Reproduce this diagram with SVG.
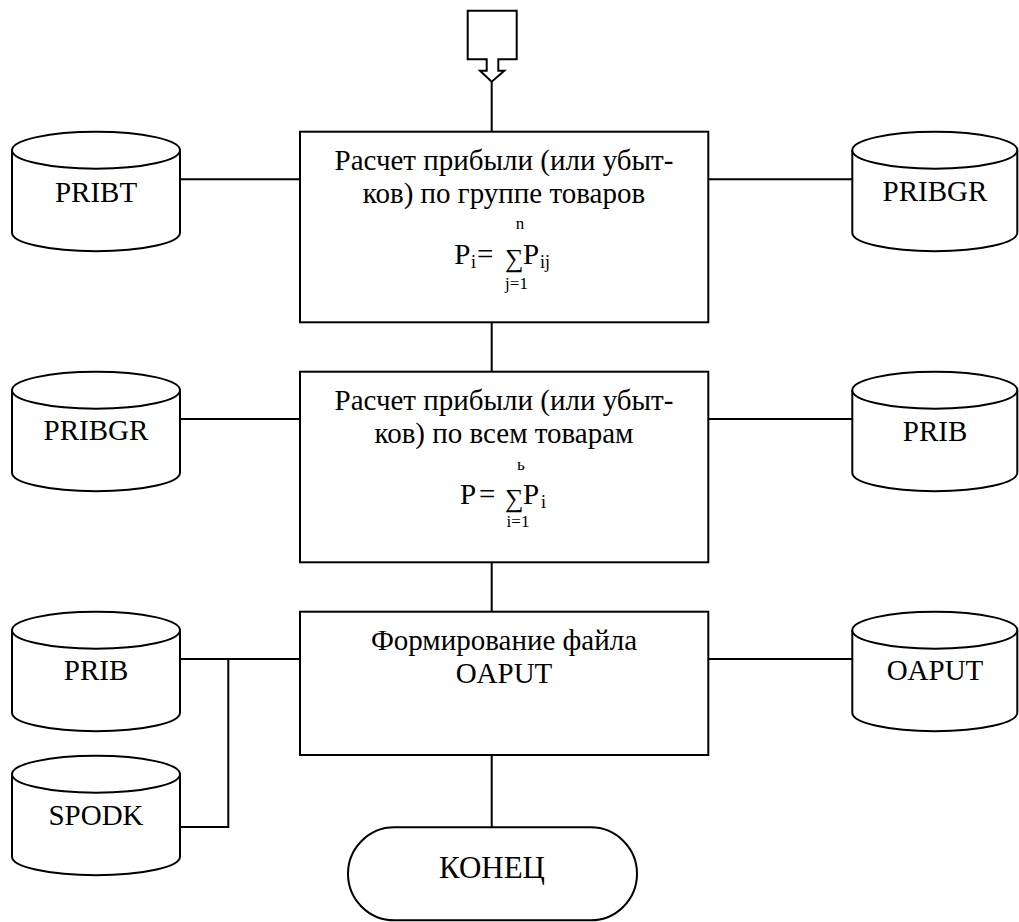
<svg xmlns="http://www.w3.org/2000/svg" width="1019" height="922" viewBox="0 0 1019 922" font-family="Liberation Serif">
<style>
.s{fill:#fff;stroke:#000;stroke-width:2}
.c{fill:none;stroke:#000;stroke-width:2}
</style>
<rect x="0" y="0" width="1019" height="922" fill="#fff"/>
<g id="connectors" class="c">
<line x1="491.7" y1="81.7" x2="491.7" y2="131.7"/>
<line x1="491.7" y1="322.3" x2="491.7" y2="371.7"/>
<line x1="491.7" y1="562.3" x2="491.7" y2="611.7"/>
<line x1="491.7" y1="755" x2="491.7" y2="827.3"/>
<line x1="180" y1="179.3" x2="300" y2="179.3"/>
<line x1="708.3" y1="179.3" x2="852" y2="179.3"/>
<line x1="180" y1="419" x2="300" y2="419"/>
<line x1="708.3" y1="419" x2="852" y2="419"/>
<line x1="180" y1="659" x2="300" y2="659"/>
<line x1="708.3" y1="659" x2="852" y2="659"/>
<polyline points="180,827 228.3,827 228.3,659"/>
</g>
<g id="start">
<path class="s" d="M467.7,10.7 H516.7 V59.3 H498.3 V70.7 H504.3 L491.7,81.7 L480,70.7 H486.7 V59.3 H467.7 Z"/>
</g>
<g id="box1">
<rect class="s" x="300" y="131.7" width="408.3" height="190.6"/>
<text font-family="Liberation Serif" font-size="29" x="504" y="170" text-anchor="middle">Расчет прибыли (или убыт-</text>
<text font-family="Liberation Serif" font-size="29" x="504" y="203.3" text-anchor="middle">ков) по группе товаров</text>
<text font-family="Liberation Serif" font-size="17" x="520" y="229" text-anchor="middle">n</text>
<text font-family="Liberation Serif" font-size="29" x="454.3" y="264">P</text>
<text font-family="Liberation Serif" font-size="18" x="471" y="268">i</text>
<text font-family="Liberation Serif" font-size="29" x="477" y="264">=</text>
<text font-family="Liberation Serif" font-size="26" x="505" y="267">∑</text>
<text font-family="Liberation Serif" font-size="29" x="523" y="264">P</text>
<text font-family="Liberation Serif" font-size="18" x="540" y="268">ij</text>
<text font-family="Liberation Serif" font-size="17" x="516.5" y="289" text-anchor="middle">j=1</text>
</g>
<g id="box2">
<rect class="s" x="300" y="371.7" width="408.3" height="190.6"/>
<text font-family="Liberation Serif" font-size="29" x="504" y="410" text-anchor="middle">Расчет прибыли (или убыт-</text>
<text font-family="Liberation Serif" font-size="29" x="504" y="443.3" text-anchor="middle">ков) по всем товарам</text>
<text font-family="Liberation Serif" font-size="17" x="521" y="469.7" text-anchor="middle">ь</text>
<text font-family="Liberation Serif" font-size="29" x="460" y="504">P</text>
<text font-family="Liberation Serif" font-size="29" x="479" y="504">=</text>
<text font-family="Liberation Serif" font-size="26" x="505" y="507">∑</text>
<text font-family="Liberation Serif" font-size="29" x="523" y="504">P</text>
<text font-family="Liberation Serif" font-size="18" x="541" y="508">i</text>
<text font-family="Liberation Serif" font-size="17" x="518" y="527" text-anchor="middle">i=1</text>
</g>
<g id="box3">
<rect class="s" x="300" y="611.7" width="408.3" height="143.3"/>
<text font-family="Liberation Serif" font-size="29" x="504" y="650" text-anchor="middle">Формирование файла</text>
<text font-family="Liberation Serif" font-size="29" x="504" y="683.3" text-anchor="middle">OAPUT</text>
</g>
<g id="db-pribt">
<path class="s" d="M12,150.2 V232.7 A84,18.5 0 0 0 180,232.7 V150.2"/>
<ellipse class="s" cx="96" cy="150.2" rx="84" ry="18.5"/>
<text font-family="Liberation Serif" font-size="29" x="96" y="201.7" text-anchor="middle">PRIBT</text>
</g>
<g id="db-pribgr-r">
<path class="s" d="M852.3,150.2 V232.7 A82.5,18.5 0 0 0 1017.3,232.7 V150.2"/>
<ellipse class="s" cx="934.8" cy="150.2" rx="82.5" ry="18.5"/>
<text font-family="Liberation Serif" font-size="29" x="935" y="200.7" text-anchor="middle">PRIBGR</text>
</g>
<g id="db-pribgr-l">
<path class="s" d="M12,390.2 V472.7 A84,18.5 0 0 0 180,472.7 V390.2"/>
<ellipse class="s" cx="96" cy="390.2" rx="84" ry="18.5"/>
<text font-family="Liberation Serif" font-size="29" x="96" y="440" text-anchor="middle">PRIBGR</text>
</g>
<g id="db-prib-r">
<path class="s" d="M852.3,390.2 V472.7 A82.5,18.5 0 0 0 1017.3,472.7 V390.2"/>
<ellipse class="s" cx="934.8" cy="390.2" rx="82.5" ry="18.5"/>
<text font-family="Liberation Serif" font-size="29" x="935" y="440.7" text-anchor="middle">PRIB</text>
</g>
<g id="db-prib-l">
<path class="s" d="M12,630.2 V712.7 A84,18.5 0 0 0 180,712.7 V630.2"/>
<ellipse class="s" cx="96" cy="630.2" rx="84" ry="18.5"/>
<text font-family="Liberation Serif" font-size="29" x="96" y="680" text-anchor="middle">PRIB</text>
</g>
<g id="db-oaput">
<path class="s" d="M852.3,630.2 V712.7 A82.5,18.5 0 0 0 1017.3,712.7 V630.2"/>
<ellipse class="s" cx="934.8" cy="630.2" rx="82.5" ry="18.5"/>
<text font-family="Liberation Serif" font-size="29" x="935" y="680" text-anchor="middle">OAPUT</text>
</g>
<g id="db-spodk">
<path class="s" d="M12,774.2 V856.7 A84,18.5 0 0 0 180,856.7 V774.2"/>
<ellipse class="s" cx="96" cy="774.2" rx="84" ry="18.5"/>
<text font-family="Liberation Serif" font-size="29" x="96" y="825" text-anchor="middle">SPODK</text>
</g>
<g id="end">
<rect class="s" x="348" y="827.3" width="289" height="93" rx="46.5" ry="46.5"/>
<text font-family="Liberation Serif" font-size="31" x="492" y="878.3" text-anchor="middle">КОНЕЦ</text>
</g>
</svg>
